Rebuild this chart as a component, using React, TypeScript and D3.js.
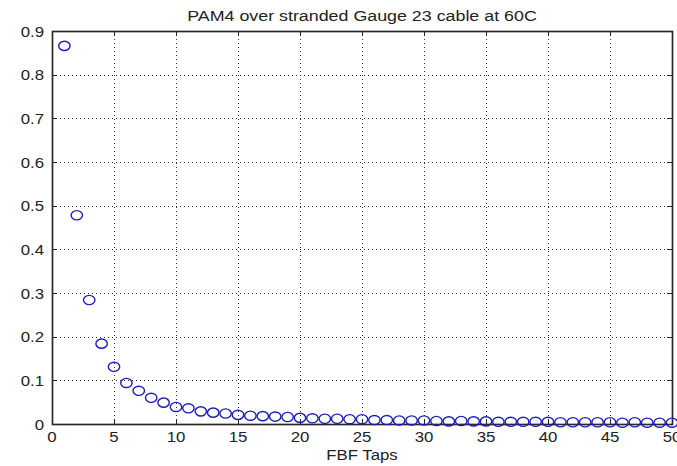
import React from "react";
import * as d3 from "d3";

// Magnitude of each feedback-filter tap coefficient (tap 1 .. 50)
const tapMagnitudes: number[] = [
  0.866, 0.478, 0.284, 0.184, 0.131, 0.094, 0.076, 0.06, 0.049, 0.039,
  0.036, 0.029, 0.026, 0.024, 0.021, 0.019, 0.018, 0.017, 0.016, 0.014,
  0.013, 0.012, 0.012, 0.011, 0.011, 0.009, 0.009, 0.008, 0.008, 0.008,
  0.007, 0.006, 0.007, 0.006, 0.006, 0.005, 0.005, 0.005, 0.005, 0.005,
  0.004, 0.004, 0.004, 0.004, 0.004, 0.003, 0.004, 0.003, 0.003, 0.003,
];
const xTicks: number[] = [0, 5, 10, 15, 20, 25, 30, 35, 40, 45, 50];
const yTicks: number[] = [0, 0.1, 0.2, 0.3, 0.4, 0.5, 0.6, 0.7, 0.8, 0.9];
const titleText = "PAM4 over stranded Gauge 23 cable at 60C";
const xLabelText = "FBF Taps";

const W = 677;
const H = 466;
const plot = { left: 52, right: 672, top: 31, bottom: 424 };
const FONT = "'Liberation Sans', Arial, Helvetica, sans-serif";
const MARKER = "#1c1cb8";

function Label(props: {
  x: number;
  y: number;
  anchor: "start" | "middle" | "end";
  size: number;
  stretch: number;
  children: React.ReactNode;
}) {
  return (
    <text
      transform={`translate(${props.x},${props.y}) scale(${props.stretch},1)`}
      textAnchor={props.anchor}
      fontSize={props.size}
      fontFamily={FONT}
      fill="#222"
    >
      {props.children}
    </text>
  );
}

export default function App() {
  const x = d3.scaleLinear().domain([0, 50]).range([plot.left, plot.right]);
  const y = d3.scaleLinear().domain([0, 0.9]).range([plot.bottom, plot.top]);
  const fmt = d3.format("~g");
  const tickLen = 5;

  const points = tapMagnitudes.map((v, i) => ({ tap: i + 1, v }));

  return (
    <svg
      width={W}
      height={H}
      style={{ position: "absolute", left: 0, top: 0, background: "#fff" }}
    >
      <rect x={0} y={0} width={W} height={H} fill="#fff" />

      {/* dotted grid */}
      <g stroke="#333" strokeWidth={1} strokeDasharray="1,3">
        {xTicks
          .filter((t) => t > 0 && t < 50)
          .map((t) => (
            <line
              key={`gx${t}`}
              x1={Math.round(x(t)) + 0.5}
              x2={Math.round(x(t)) + 0.5}
              y1={plot.top}
              y2={plot.bottom}
            />
          ))}
        {yTicks
          .filter((t) => t > 0 && t < 0.9)
          .map((t) => (
            <line
              key={`gy${t}`}
              x1={plot.left}
              x2={plot.right}
              y1={Math.round(y(t)) + 0.5}
              y2={Math.round(y(t)) + 0.5}
            />
          ))}
      </g>

      {/* ticks on all four sides, pointing inward */}
      <g stroke="#222" strokeWidth={1}>
        {xTicks.map((t) => {
          const px = Math.round(x(t)) + 0.5;
          return (
            <g key={`tx${t}`}>
              <line x1={px} x2={px} y1={plot.bottom} y2={plot.bottom - tickLen} />
              <line x1={px} x2={px} y1={plot.top} y2={plot.top + tickLen} />
            </g>
          );
        })}
        {yTicks.map((t) => {
          const py = Math.round(y(t)) + 0.5;
          return (
            <g key={`ty${t}`}>
              <line x1={plot.left} x2={plot.left + tickLen} y1={py} y2={py} />
              <line x1={plot.right} x2={plot.right - tickLen} y1={py} y2={py} />
            </g>
          );
        })}
      </g>

      {/* axes box */}
      <rect
        x={plot.left + 0.5}
        y={plot.top + 0.5}
        width={plot.right - plot.left}
        height={plot.bottom - plot.top}
        fill="none"
        stroke="#2a2a2a"
        strokeWidth={1.7}
      />

      {/* markers */}
      <g fill="none" stroke={MARKER} strokeWidth={1.4}>
        {points.map((p) => (
          <ellipse key={p.tap} cx={x(p.tap)} cy={y(p.v)} rx={5.7} ry={4.6} />
        ))}
      </g>

      {/* tick labels */}
      {xTicks.map((t) => (
        <Label key={`lx${t}`} x={x(t)} y={442} anchor="middle" size={15} stretch={1.12}>
          {fmt(t)}
        </Label>
      ))}
      {yTicks.map((t) => (
        <Label
          key={`ly${t}`}
          x={plot.left - 8}
          y={y(t) + 5.5}
          anchor="end"
          size={15}
          stretch={1.12}
        >
          {fmt(t)}
        </Label>
      ))}

      {/* title and axis label */}
      <Label x={(plot.left + plot.right) / 2} y={21} anchor="middle" size={15} stretch={1.19}>
        {titleText}
      </Label>
      <Label x={(plot.left + plot.right) / 2} y={460} anchor="middle" size={15} stretch={1.12}>
        {xLabelText}
      </Label>
    </svg>
  );
}
